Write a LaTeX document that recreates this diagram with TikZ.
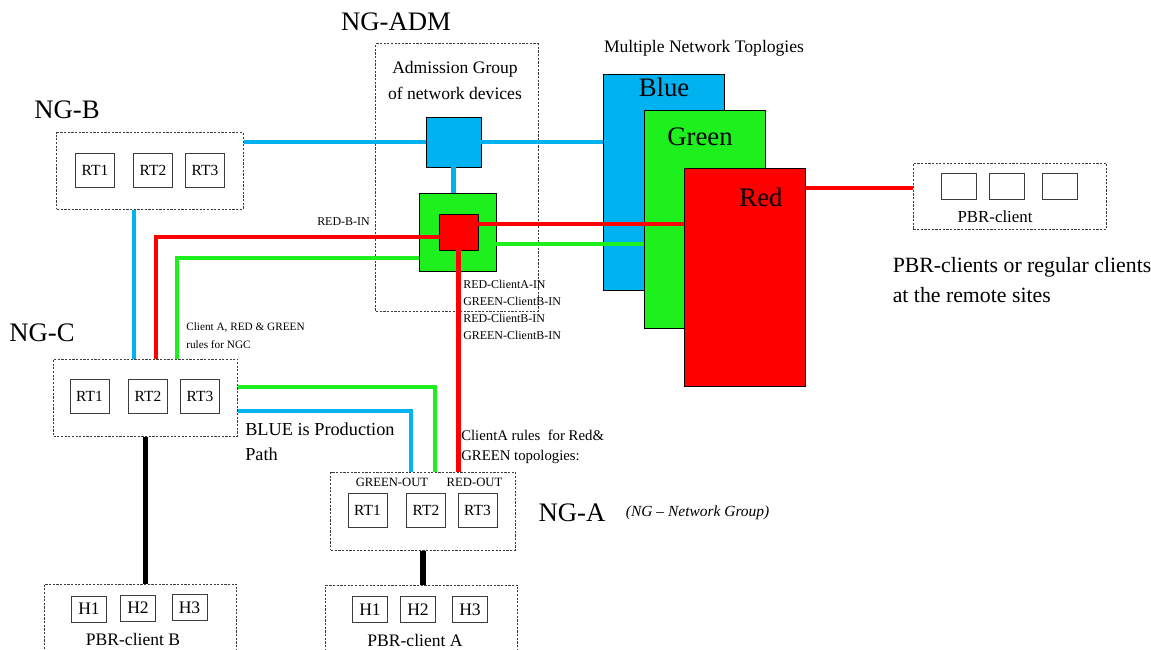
\documentclass[tikz,border=0pt]{standalone}
\usepackage{fontspec}
\setmainfont{Liberation Serif}
\usepackage{xcolor}
\usepackage{tikz}
\usetikzlibrary{positioning, calc}
\definecolor{ngBlue}{RGB}{0, 178, 240}
\definecolor{ngGreen}{RGB}{30, 240, 30}
\definecolor{ngRed}{RGB}{255, 0, 0}
\definecolor{ngGray}{RGB}{60, 60, 60}
\tikzset{
    base/.style={
        font=\rmfamily,
        align=center,
        inner sep=0pt
    },
    group/.style={
        rectangle,
        draw=ngGray,
        line width=0.7pt,
        dash pattern=on 1.6pt off 1pt
    },
    unit/.style={
        base,
        rectangle,
        draw=ngGray,
        line width=0.7pt,
        minimum width=0.975cm,
        minimum height=0.85cm,
        font=\fontsize{11}{13}\selectfont
    },
    host/.style={
        unit,
        minimum width=0.875cm,
        minimum height=0.65cm,
        font=\fontsize{12.5}{14}\selectfont
    },
    topo/.style={
        rectangle,
        draw=black,
        line width=0.6pt,
        minimum width=3.03cm,
        minimum height=5.45cm
    },
    square/.style={
        rectangle,
        draw=black,
        line width=0.6pt
    },
    title/.style={
        base,
        font=\fontsize{19}{22}\selectfont
    },
    note/.style={
        base,
        font=\fontsize{8.5}{12.1}\selectfont
    },
    blueln/.style={draw=ngBlue, line width=2.9pt},
    greenln/.style={draw=ngGreen, line width=2.9pt},
    redln/.style={draw=ngRed, line width=2.9pt},
    blackln/.style={draw=black, line width=3.6pt}
}

\begin{document}
\begin{tikzpicture}[x=0.025cm, y=-0.025cm]
    \useasboundingbox (0,0) rectangle (1151,650);

    % Topologies
    \node[base, font=\fontsize{12.5}{14}\selectfont] (toplbl) at (704,48) {Multiple Network Toplogies};
    \node[topo, fill=ngBlue, minimum width=3.04cm, minimum height=5.4cm] (bluetop) at (664,182) {};
    \node[title] (bluelbl) at (664,87) {Blue};
    \node[topo, fill=ngGreen] (greentop) at (705,219) {};
    \node[title] (greenlbl) at (700,137) {Green};
    \node[topo, fill=ngRed] (redtop) at (745,277) {};
    \node[title] (redlbl) at (761,197) {Red};

    % NG-B
    \node[title] (ngblbl) at (67,110) {NG-B};
    \node[group, minimum width=4.65cm, minimum height=1.9cm] (ngb) at (150,171) {};
    \node[unit] (b1) at (95,170) {RT1};
    \node[unit] (b2) at (153,170) {RT2};
    \node[unit] (b3) at (205,170) {RT3};

    % NG-ADM
    \node[title] (admlbl) at (396,22) {NG-ADM};
    \node[group, minimum width=4.05cm, minimum height=6.675cm] (adm) at (457,177.5) {};
    \node[base, font=\fontsize{12.5}{17.8}\selectfont] (admtxt) at (455,80.5) {Admission Group\\of network devices};
    \node[square, fill=ngGreen, minimum width=1.925cm, minimum height=1.95cm] (grnsq) at (457.5,232) {};
    \node[square, fill=ngRed, minimum width=0.975cm, minimum height=0.9cm] (redsq) at (458.5,232) {};
    \node[square, fill=ngBlue, minimum width=1.375cm, minimum height=1.25cm] (bluesq) at (453.5,142) {};
    \node[note, anchor=east] (redbin) at (370,222) {RED-B-IN};
    \node[note, anchor=west, align=left] (admin) at (463,309.5) {RED-ClientA-IN\\GREEN-ClientB-IN\\RED-ClientB-IN\\GREEN-ClientB-IN};

    % NG-C
    \node[title] (ngclbl) at (42,333) {NG-C};
    \node[note, anchor=west, align=left, font=\fontsize{8}{12.8}\selectfont] (ngcrules) at (186,336) {Client A, RED \& GREEN\\rules for NGC};
    \node[group, minimum width=4.6cm, minimum height=1.925cm] (ngc) at (145.6,397.5) {};
    \node[unit] (c1) at (89.5,396.5) {RT1};
    \node[unit] (c2) at (148,396.5) {RT2};
    \node[unit] (c3) at (200,396.5) {RT3};
    \node[base, anchor=west, align=left, font=\fontsize{13}{17.8}\selectfont] (prod) at (245,441.5) {BLUE is Production\\Path};

    % NG-A
    \node[base, anchor=west, align=left, font=\fontsize{10.5}{14.2}\selectfont] (ngarules) at (461,447) {ClientA rules\ \ for Red\&\\GREEN topologies:};
    \node[group, minimum width=4.6cm, minimum height=1.95cm] (nga) at (423,511) {};
    \node[note, font=\fontsize{9}{11}\selectfont] (gout) at (392,482.5) {GREEN-OUT};
    \node[note, font=\fontsize{9}{11}\selectfont] (rout) at (474.5,482) {RED-OUT};
    \node[unit] (a1) at (367.5,510) {RT1};
    \node[unit] (a2) at (426,510.5) {RT2};
    \node[unit] (a3) at (477.5,510) {RT3};
    \node[title] (ngalbl) at (572,513) {NG-A};
    \node[base, font=\fontsize{11}{13}\selectfont\itshape, right=0.5cm of ngalbl] (ngnote) {(NG -- Network Group)};

    % Clients
    \node[group, minimum width=4.8cm, minimum height=1.9cm] (pbrb) at (140.5,622) {};
    \node[host] (hb1) at (89,609) {H1};
    \node[host] (hb2) at (138,608) {H2};
    \node[host] (hb3) at (189.5,607.5) {H3};
    \node[base, font=\fontsize{12.5}{14}\selectfont] (pbrblbl) at (133,639) {PBR-client B};

    \node[group, minimum width=4.8cm, minimum height=1.875cm] (pbra) at (421.8,622.5) {};
    \node[host] (ha1) at (370,609.5) {H1};
    \node[host] (ha2) at (418,609.5) {H2};
    \node[host] (ha3) at (470,609.5) {H3};
    \node[base, font=\fontsize{12.5}{14}\selectfont] (pbralbl) at (415,640) {PBR-client A};

    \node[group, minimum width=4.825cm, minimum height=1.65cm] (remote) at (1010,196) {};
    \node[host] (r1) at (959,186.5) {};
    \node[host] (r2) at (1006.5,186.5) {};
    \node[host] (r3) at (1059.5,186.5) {};
    \node[base, font=\fontsize{12}{14}\selectfont] (remotelbl) at (995,217) {PBR-client};
    \node[base, anchor=west, align=left, font=\fontsize{15.5}{21.3}\selectfont] (remotetxt) at (892.5,280) {PBR-clients or regular clients\\at the remote sites};

    % Links
    \draw[blueln] (bluesq.west -| ngb.east) -- (bluesq.west);
    \draw[blueln] (bluesq.east) -- (bluesq.east -| bluetop.west);
    \draw[blueln] (bluesq.south) -- (bluesq.south |- grnsq.north);
    \draw[blueln] ([xshift=-0.4cm]ngb.south) -- ([xshift=-0.4cm]ngb.south |- ngc.north);
    \draw[redln] ([yshift=-0.125cm]redsq.west) -| ([xshift=0.26cm]ngc.north);
    \draw[greenln] ([yshift=-0.65cm]grnsq.west) -| ([xshift=0.775cm]ngc.north);
    \draw[greenln] ([yshift=0.27cm]ngc.east) -| ([xshift=0.3cm]nga.north);
    \draw[blueln] ([yshift=-0.34cm]ngc.east) -| ([xshift=-0.3cm]nga.north);
    \draw[redln] ([yshift=0.2cm]redsq.east) -- ([yshift=0.2cm]redsq.east -| redtop.west);
    \draw[greenln] ([yshift=-0.3cm]grnsq.east) -- ([yshift=-0.3cm]grnsq.east -| greentop.west);
    \draw[redln] (redsq.south) -- (redsq.south |- nga.north);
    \draw[redln] ([yshift=0.2cm]remote.west) -- ([yshift=0.2cm]remote.west -| redtop.east);
    \draw[blackln] (ngc.south) -- (ngc.south |- pbrb.north);
    \draw[blackln] (nga.south) -- (nga.south |- pbra.north);
\end{tikzpicture}
\end{document}
